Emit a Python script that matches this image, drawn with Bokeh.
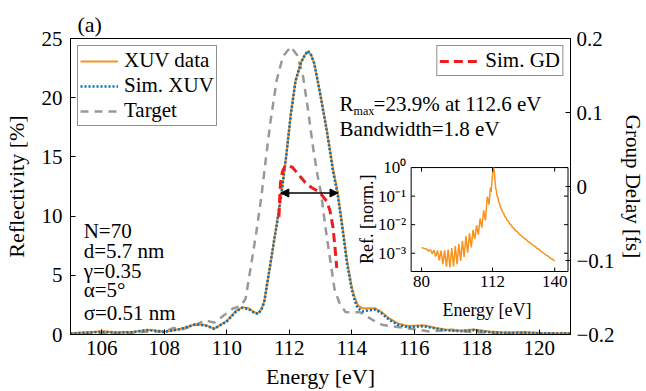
import math
from bokeh.plotting import figure
from bokeh.models import (Range1d, LinearAxis, Label, Legend, LegendItem, Arrow,
                          NormalHead, FixedTicker, CustomJSTickFormatter, LinearScale)
from bokeh.core.properties import value
from bokeh.embed import file_html
from bokeh.resources import INLINE

FONT = "Liberation Serif"
ORANGE = "#F7931E"
BLUE = "#0072BD"
GRAY = "#999999"
RED = "#EE1C1C"

# ---------------- data ----------------
xuv_energy = [105.0, 105.5, 106.0, 106.5, 107.0, 107.5, 108.0, 108.5, 109.0, 109.3, 109.6, 110.0,
              110.3, 110.5, 110.7, 110.9, 111.0, 111.1, 111.2, 111.3, 111.4, 111.5, 111.6, 111.75,
              111.9, 112.05, 112.2, 112.38, 112.5, 112.6, 112.7, 112.8, 113.0, 113.2, 113.4, 113.55,
              113.7, 113.85, 114.0, 114.1, 114.2, 114.35, 114.55, 114.75, 114.95, 115.2, 115.5, 115.8,
              116.3, 116.7, 117.0, 117.5, 117.9, 118.4, 119.0, 119.5, 120.0, 121.0]
xuv_data = [0.10, 0.18, 0.26, 0.18, 0.22, 0.40, 0.24, 0.45, 0.88, 0.80, 0.50, 1.15,
            2.00, 2.30, 2.20, 1.85, 1.80, 2.10, 2.80, 4.40, 6.00, 7.70, 9.30, 11.9,
            15.0, 18.6, 21.4, 23.0, 23.6, 23.9, 23.6, 22.9, 20.2, 17.3, 14.0, 12.0,
            9.2, 6.2, 4.0, 3.1, 2.45, 2.2, 2.2, 2.2, 1.9, 1.35, 0.9, 0.72,
            0.78, 0.55, 0.42, 0.32, 0.42, 0.24, 0.15, 0.2, 0.12, 0.10]
sim_xuv = [0.08, 0.15, 0.22, 0.15, 0.20, 0.38, 0.22, 0.45, 0.85, 0.78, 0.48, 1.10,
           1.95, 2.25, 2.15, 1.80, 1.75, 2.05, 2.75, 4.40, 6.00, 7.70, 9.30, 11.9,
           15.0, 18.6, 21.4, 23.0, 23.6, 23.95, 23.6, 22.9, 20.2, 17.2, 13.8, 11.8,
           9.0, 6.0, 3.8, 2.8, 2.2, 1.95, 2.05, 2.1, 1.8, 1.25, 0.8, 0.62,
           0.7, 0.5, 0.36, 0.28, 0.38, 0.2, 0.12, 0.16, 0.1, 0.08]

target_energy = [105.0, 106.0, 107.0, 107.5, 108.0, 108.3, 108.6, 109.0, 109.3, 109.6, 109.9, 110.2,
                 110.45, 110.6, 110.8, 110.95, 111.1, 111.25, 111.4, 111.6, 111.8, 112.05, 112.25,
                 112.43, 112.6, 112.75, 112.9, 113.02, 113.15, 113.3, 113.45, 113.6, 113.8, 114.0,
                 114.25, 114.5, 114.75, 115.0, 115.6, 116.0, 116.5, 117.2, 117.8, 118.5, 121.0]
target = [0.05, 0.10, 0.15, 0.25, 0.25, 0.55, 0.45, 0.80, 1.20, 1.00, 1.60, 2.20,
          2.40, 3.00, 6.2, 8.7, 11.5, 14.8, 18.0, 21.5, 23.5, 24.3, 23.6,
          22.0, 19.0, 16.0, 13.5, 11.9, 9.2, 6.5, 3.8, 2.7, 1.9, 1.85,
          1.9, 1.5, 1.1, 0.8, 0.6, 0.45, 0.25, 0.40, 0.2, 0.15, 0.1]

gd_energy = [111.67, 111.69, 111.72, 111.78, 111.85, 111.95, 112.1, 112.3, 112.5, 112.7,
             112.9, 113.05, 113.2, 113.3, 113.4, 113.47, 113.52]
sim_gd = [-0.041, -0.020, 0.005, 0.020, 0.026, 0.028, 0.026, 0.016, 0.006, -0.001,
          -0.006, -0.012, -0.020, -0.032, -0.055, -0.085, -0.110]

# bandwidth (FWHM) marker
half_max = 11.95
fwhm_lo = 111.73
fwhm_hi = 113.56

x_ticks = [106, 108, 110, 112, 114, 116, 118, 120]
y_ticks = [0, 5, 10, 15, 20, 25]
gd_ticks = [-0.2, -0.1, 0, 0.1, 0.2]

# inset (b): normalized reflectivity, given as log10 exponents (log axis)
inset_energy = [80.0, 80.8, 81.6, 82.4, 83.2, 84.0, 84.8, 85.6, 86.4, 87.2, 88.0, 88.8, 89.6, 90.4,
                91.2, 92.0, 92.8, 93.6, 94.4, 95.2, 96.0, 96.8, 97.6, 98.4, 99.2, 100.0, 100.8,
                101.6, 102.4, 103.2, 104.0, 104.8, 105.6, 106.4, 107.2, 108.0, 108.8, 109.6, 110.4,
                111.0, 111.4, 111.8, 112.2, 112.5, 112.8, 113.1, 113.4, 113.7, 114.0, 114.4, 114.8,
                115.2, 115.6, 116.0, 116.5, 117.0, 117.5, 118.0, 118.6, 119.2, 119.8, 120.4, 121.0,
                121.6, 122.3, 123.0, 124.0, 125.0, 126.0, 127.0, 128.0, 129.0, 130.0, 131.0, 132.0,
                133.0, 134.0, 135.0, 136.0, 137.0, 138.0, 139.0, 140.0]
inset_log10 = [-2.80, -2.82, -2.84, -2.86, -2.93, -2.87, -3.02, -2.89, -3.12, -2.90, -3.25, -2.91,
               -3.38, -2.90, -3.47, -2.87, -3.50, -2.82, -3.47, -2.75, -3.38, -2.67, -3.27, -2.57,
               -3.13, -2.40, -2.98, -2.30, -2.80, -2.18, -2.50, -2.02, -2.35, -1.78, -2.10, -1.50,
               -1.85, -1.02, -1.30, -0.70, -0.85, -0.40, -0.10, 0.0, -0.15, -0.45, -0.72, -0.80,
               -0.98, -1.05, -1.22, -1.26, -1.40, -1.44, -1.57, -1.60, -1.71, -1.74, -1.85, -1.88,
               -1.98, -2.01, -2.10, -2.12, -2.21, -2.23, -2.33, -2.38, -2.47, -2.51, -2.59, -2.63,
               -2.71, -2.75, -2.83, -2.87, -2.95, -2.99, -3.06, -3.10, -3.17, -3.21, -3.27]
inset_ticks_x = [80, 112, 140]
inset_ticks_exp = [-3, -2, -1, 0]

# ---------------- main figure ----------------
p = figure(frame_width=500, frame_height=296, x_range=Range1d(105, 121), y_range=Range1d(0, 25),
           output_backend="svg", toolbar_location=None,
           min_border_left=62, min_border_right=0, min_border_top=38, min_border_bottom=40)
p.extra_y_ranges = {"gd": Range1d(-0.2, 0.2)}
p.grid.visible = False
p.outline_line_color = "black"
p.outline_line_width = 1
p.border_fill_color = "white"

p.title.text = "(a)"
p.title.align = "left"
p.title.offset = 7
p.title.standoff = 4
p.title.text_font = FONT
p.title.text_font_size = "22px"
p.title.text_font_style = "normal"
p.title.text_color = "black"

r_target = p.line(target_energy, target, color=GRAY, line_width=2.5, line_dash="8 6")
r_xuv = p.line(xuv_energy, xuv_data, color=ORANGE, line_width=2.2)
r_sim = p.line(xuv_energy, sim_xuv, color=BLUE, line_width=2.6, line_dash="2 2")
r_gd = p.line(gd_energy, sim_gd, color=RED, line_width=3, line_dash="9 5", y_range_name="gd")

p.xaxis.ticker = FixedTicker(ticks=x_ticks)
p.yaxis.ticker = FixedTicker(ticks=y_ticks)
p.xaxis.axis_label = "Energy [eV]"
p.yaxis.axis_label = "Reflectivity [%]"

gd_axis = LinearAxis(y_range_name="gd", ticker=FixedTicker(ticks=gd_ticks),
                     axis_label="Group Delay [fs]",
                     formatter=CustomJSTickFormatter(code="""
if (Math.abs(tick) < 1e-9) { return "0"; }
const s = Math.abs(tick).toFixed(1);
return tick < 0 ? "\u2212" + s : s;
"""))
p.add_layout(gd_axis, "right")

for ax in [p.xaxis[0], p.yaxis[0], gd_axis]:
    ax.major_label_text_font = FONT
    ax.major_label_text_font_size = "21px"
    ax.major_label_text_color = "black"
    ax.axis_label_text_font = FONT
    ax.axis_label_text_font_size = "22px"
    ax.axis_label_text_font_style = "normal"
    ax.axis_label_text_color = "black"
    ax.major_tick_in = 5
    ax.major_tick_out = 0
    ax.minor_tick_line_color = None
    ax.axis_line_color = "black"
    ax.major_tick_line_color = "black"

p.yaxis[0].major_label_standoff = 8
p.yaxis[0].axis_label_standoff = 10
p.xaxis[0].major_label_standoff = 6
p.xaxis[0].axis_label_standoff = 6
gd_axis.major_label_standoff = 6
gd_axis.axis_label_standoff = 3
gd_axis.axis_label_text_font_size = "21px"

# ---------------- inset (b), mapped into the main frame ----------------
ix0, ix1 = 75.3, 146.0
iy0, iy1 = -3.64, 0.0          # log10 of 2.3e-4 .. 1
sub = p.subplot(x_source=Range1d(ix0, ix1), y_source=Range1d(iy0, iy1),
                x_scale=LinearScale(), y_scale=LinearScale(),
                x_target=Range1d(115.90, 120.92), y_target=Range1d(5.32, 14.10))
sub.quad(left=[ix0], right=[ix1], bottom=[iy0], top=[iy1],
         fill_color="white", line_color="black", line_width=1)
sub.line(inset_energy, inset_log10, color=ORANGE, line_width=1.5)
# ticks (inward, mirrored)
nx, ny = len(inset_ticks_x), len(inset_ticks_exp)
sub.ray(x=inset_ticks_x, y=[iy0] * nx, length=4, length_units="screen", angle=math.pi / 2,
        line_color="black", line_width=1)
sub.ray(x=inset_ticks_x, y=[iy1] * nx, length=4, length_units="screen", angle=-math.pi / 2,
        line_color="black", line_width=1)
sub.ray(x=[ix0] * ny, y=inset_ticks_exp, length=4, length_units="screen", angle=0,
        line_color="black", line_width=1)
sub.ray(x=[ix1] * ny, y=inset_ticks_exp, length=4, length_units="screen", angle=math.pi,
        line_color="black", line_width=1)
# tick labels
sub.text(x=inset_ticks_x, y=[iy0] * nx, text=[str(t) for t in inset_ticks_x],
         text_font=value(FONT), text_font_size="17px", text_color="black",
         text_align="center", text_baseline="top", y_offset=4)
SUP = {"0": "\u2070", "1": "\u00b9", "2": "\u00b2", "3": "\u00b3", "-": "\u207b"}
ylabels = ["10" + "".join(SUP[c] for c in str(e)) for e in inset_ticks_exp]
sub.text(x=[ix0] * ny, y=inset_ticks_exp, text=ylabels,
         text_font=value(FONT), text_font_size="17px", text_color="black",
         text_align="right", text_baseline="middle", x_offset=-5)
# axis labels
sub.text(x=[109.5], y=[iy0], text=["Energy [eV]"], text_font=value(FONT), text_font_size="18px",
         text_color="black", text_align="center", text_baseline="middle", y_offset=38)
sub.text(x=[ix0], y=[-1.81], text=["Ref. [norm.]"], text_font=value(FONT), text_font_size="18px",
         text_color="black", text_align="center", text_baseline="middle", x_offset=-44,
         angle=math.pi / 2)

# legends
leg1 = Legend(items=[LegendItem(label="XUV data", renderers=[r_xuv]),
                     LegendItem(label="Sim. XUV", renderers=[r_sim]),
                     LegendItem(label="Target", renderers=[r_target])],
              location="top_left")
leg2 = Legend(items=[LegendItem(label="Sim. GD", renderers=[r_gd])], location="top_right")
for lg in (leg1, leg2):
    lg.label_text_font = FONT
    lg.label_text_font_size = "21px"
    lg.label_text_color = "black"
    lg.glyph_width = 40
    lg.glyph_height = 20
    lg.label_standoff = 6
    lg.padding = 2
    lg.spacing = 0
    lg.margin = 7
    lg.border_line_color = "#222222"
    lg.border_line_width = 1.5
    lg.background_fill_color = "white"
    lg.background_fill_alpha = 1.0
    p.add_layout(lg)
leg1.glyph_width = 38

# bandwidth arrow
p.add_layout(Arrow(start=NormalHead(size=8, fill_color="black", line_color="black", line_width=1),
                   end=NormalHead(size=8, fill_color="black", line_color="black", line_width=1),
                   x_start=fwhm_lo, y_start=half_max, x_end=fwhm_hi, y_end=half_max,
                   line_color="black", line_width=1.5))

def lab(x, y, text, size="21px", xo=0, yo=0):
    p.add_layout(Label(x=x, y=y, text=text, x_offset=xo, y_offset=yo,
                       text_font=FONT, text_font_size=size, text_color="black",
                       text_baseline="alphabetic", text_align="left"))

lab(113.61, 19.48, "R")
lab(113.61, 19.48, "max", size="12px", xo=14, yo=-7)
lab(113.61, 19.48, "=23.9% at 112.6 eV", xo=34)
lab(113.61, 17.37, "Bandwidth=1.8 eV")
params = ["N=70", "d=5.7 nm", "\u03b3=0.35", "\u03b1=5\u00b0", "\u03c3=0.51 nm"]
param_y = [8.78, 7.09, 5.35, 3.72, 1.83]
for t, yy in zip(params, param_y):
    lab(105.42, yy, t)

open("out.html", "w").write(file_html(p, INLINE))
